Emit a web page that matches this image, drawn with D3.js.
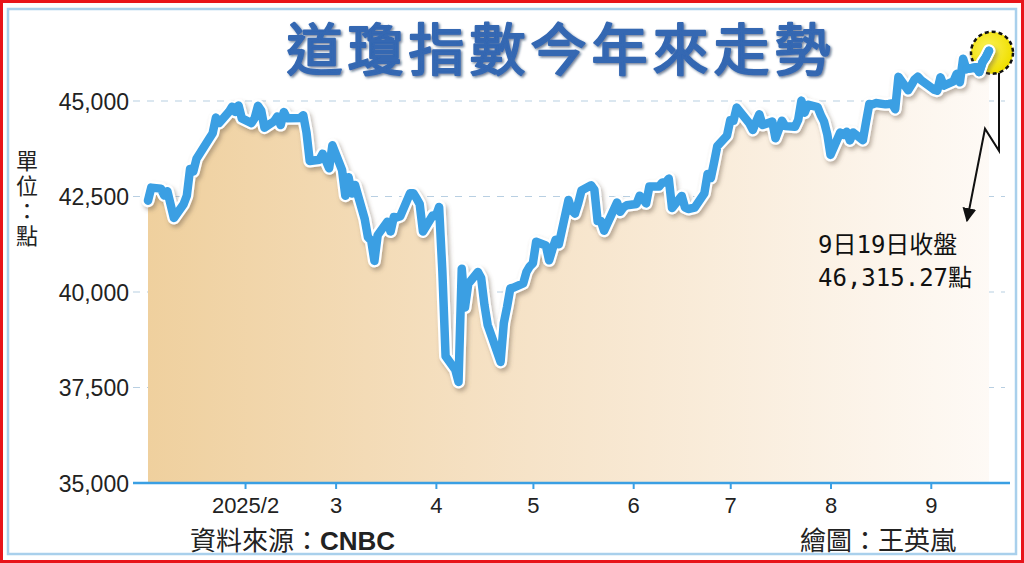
<!DOCTYPE html>
<html><head><meta charset="utf-8">
<script src="https://cdn.jsdelivr.net/npm/d3@7"></script>
<style>html,body{margin:0;padding:0;background:#fff;}svg{display:block;}</style>
</head><body>
<svg id="chart" width="1024" height="563"></svg>
<script>
const dates = ["2025-01-02","2025-01-03","2025-01-06","2025-01-07","2025-01-08","2025-01-10","2025-01-13","2025-01-14","2025-01-15","2025-01-16","2025-01-17","2025-01-21","2025-01-22","2025-01-23","2025-01-24","2025-01-27","2025-01-28","2025-01-29","2025-01-30","2025-01-31",
"2025-02-03","2025-02-04","2025-02-05","2025-02-06","2025-02-07","2025-02-10","2025-02-11","2025-02-12","2025-02-13","2025-02-14","2025-02-18","2025-02-19","2025-02-20","2025-02-21","2025-02-24","2025-02-25","2025-02-26","2025-02-27","2025-02-28",
"2025-03-03","2025-03-04","2025-03-05","2025-03-06","2025-03-07","2025-03-10","2025-03-11","2025-03-12","2025-03-13","2025-03-14","2025-03-17","2025-03-18","2025-03-19","2025-03-20","2025-03-21","2025-03-24","2025-03-25","2025-03-26","2025-03-27","2025-03-28","2025-03-31",
"2025-04-01","2025-04-02","2025-04-03","2025-04-04","2025-04-07","2025-04-08","2025-04-09","2025-04-10","2025-04-11","2025-04-14","2025-04-15","2025-04-16","2025-04-17","2025-04-21","2025-04-22","2025-04-23","2025-04-24","2025-04-25","2025-04-28","2025-04-29","2025-04-30",
"2025-05-01","2025-05-02","2025-05-05","2025-05-06","2025-05-07","2025-05-08","2025-05-09","2025-05-12","2025-05-13","2025-05-14","2025-05-15","2025-05-16","2025-05-19","2025-05-20","2025-05-21","2025-05-22","2025-05-23","2025-05-27","2025-05-28","2025-05-29","2025-05-30",
"2025-06-02","2025-06-03","2025-06-04","2025-06-05","2025-06-06","2025-06-09","2025-06-10","2025-06-11","2025-06-12","2025-06-13","2025-06-16","2025-06-17","2025-06-18","2025-06-20","2025-06-23","2025-06-24","2025-06-25","2025-06-26","2025-06-27","2025-06-30",
"2025-07-01","2025-07-02","2025-07-03","2025-07-07","2025-07-08","2025-07-09","2025-07-10","2025-07-11","2025-07-14","2025-07-15","2025-07-16","2025-07-17","2025-07-18","2025-07-21","2025-07-22","2025-07-23","2025-07-24","2025-07-25","2025-07-28","2025-07-29","2025-07-30","2025-07-31",
"2025-08-01","2025-08-04","2025-08-05","2025-08-06","2025-08-07","2025-08-08","2025-08-11","2025-08-12","2025-08-13","2025-08-14","2025-08-15","2025-08-18","2025-08-19","2025-08-20","2025-08-21","2025-08-22","2025-08-25","2025-08-26","2025-08-27","2025-08-28","2025-08-29",
"2025-09-02","2025-09-03","2025-09-04","2025-09-05","2025-09-08","2025-09-09","2025-09-10","2025-09-11","2025-09-12","2025-09-15","2025-09-16","2025-09-17","2025-09-18","2025-09-19"];
const closes = [42392,42732,42706,42528,42635,41938,42297,42518,43222,43153,43488,44025,44157,44565,44424,44714,44851,44714,44882,44545,
44422,44556,44873,44748,44303,44471,44594,44369,44711,44546,44556,44628,44177,43428,43461,43621,43434,43240,43841,
43191,42521,43006,42579,42802,41912,41433,41350,40814,41489,41842,41582,41965,41953,41985,42583,42588,42455,42300,41584,42002,
41990,42226,40546,38315,37966,37646,40609,39594,40213,40525,40369,39669,39142,38170,39187,39607,40093,40114,40228,40528,40669,
40753,41317,41219,40829,41114,41368,41249,42410,42141,42051,42323,42655,42792,42677,41860,41860,41603,42343,42098,42216,42270,
42305,42520,42428,42320,42763,42762,42867,42866,42968,42198,42516,42215,42172,42207,42582,43089,42982,43387,43819,44095,
44495,44485,44829,44406,44241,44458,44651,44372,44460,44023,44255,44484,44342,44323,44502,45010,44694,44902,44838,44633,44461,44131,
43589,44174,44112,44193,43969,44176,43975,44459,44922,44911,44946,44912,44922,44938,44786,45632,45282,45418,45565,45637,45545,
45296,45271,45621,45401,45515,45711,45490,46108,45834,45883,45758,46018,46142,46315.27];
const yTicks = [35000, 37500, 40000, 42500, 45000];
const monthTicks = ["2025-02-01","2025-03-01","2025-04-01","2025-05-01","2025-06-01","2025-07-01","2025-08-01","2025-09-01"];
const monthLabels = ["2025/2","3","4","5","6","7","8","9"];
const title = "道瓊指數今年來走勢";
const unitLabel = "單位：點";
const annotLines = ["9日19日收盤","46,315.27點"];
const sourceText = "資料來源：";
const sourceName = "CNBC";
const creditText = "繪圖：王英嵐";

const parse = d3.utcParse("%Y-%m-%d");
const data = dates.map((d,i)=>({date:parse(d), v:closes[i]}));

const svg = d3.select("#chart");
const x = d3.scaleUtc().domain([parse("2025-01-02"), parse("2025-09-19")]).range([148, 989]);
const y = d3.scaleLinear().domain([35000, 45000]).range([483, 101]);

const defs = svg.append("defs");
const grad = defs.append("linearGradient").attr("id","areaGrad").attr("gradientUnits","userSpaceOnUse")
  .attr("x1",148).attr("x2",995).attr("y1",0).attr("y2",0);
grad.append("stop").attr("offset","0%").attr("stop-color","#efd09e");
grad.append("stop").attr("offset","45%").attr("stop-color","#f6e3c8");
grad.append("stop").attr("offset","100%").attr("stop-color","#fefaf6");
const sh = defs.append("filter").attr("id","shadow").attr("x","-5%").attr("y","-10%").attr("width","110%").attr("height","130%");
sh.append("feDropShadow").attr("dx",2).attr("dy",3).attr("stdDeviation",2).attr("flood-color","#6b5a48").attr("flood-opacity",0.45);
const tsh = defs.append("filter").attr("id","tshadow").attr("x","-5%").attr("y","-20%").attr("width","110%").attr("height","140%");
tsh.append("feDropShadow").attr("dx",1.5).attr("dy",1.5).attr("stdDeviation",1).attr("flood-color","#0d2a55").attr("flood-opacity",0.6);
const rg = defs.append("radialGradient").attr("id","sunGrad").attr("cx","40%").attr("cy","40%").attr("r","60%");
rg.append("stop").attr("offset","0%").attr("stop-color","#fbf25a");
rg.append("stop").attr("offset","100%").attr("stop-color","#f0df00");
defs.append("marker").attr("id","arrow").attr("viewBox","0 0 10 10").attr("refX",9).attr("refY",5)
  .attr("markerWidth",7).attr("markerHeight",7).attr("markerUnits","strokeWidth").attr("orient","auto")
  .append("path").attr("d","M0,0 L10,5 L0,10 Z").attr("fill","#111");

// frame
svg.append("rect").attr("x",1.5).attr("y",1.5).attr("width",1021).attr("height",560)
  .attr("fill","#fff").attr("stroke","#e8141a").attr("stroke-width",3);
svg.append("rect").attr("x",8).attr("y",9).attr("width",1008).attr("height",545)
  .attr("fill","#fff").attr("stroke","#a9d0ec").attr("stroke-width",2.5);

// title
svg.append("text").attr("x",561).attr("y",70).attr("text-anchor","middle")
  .attr("font-family","'Noto Sans CJK TC','Noto Sans CJK SC',sans-serif").attr("font-weight",400)
  .attr("font-size",56).attr("letter-spacing",5).attr("fill","#3467b2")
  .attr("stroke","#3467b2").attr("stroke-width",2.2).attr("stroke-linejoin","round")
  .attr("filter","url(#tshadow)")
  .text(title);

// gridlines
svg.append("g").selectAll("line").data(yTicks.filter(t=>t>35000)).join("line")
  .attr("x1",133).attr("x2",1005).attr("y1",d=>y(d)).attr("y2",d=>y(d))
  .attr("stroke","#b8cfe2").attr("stroke-width",1.2).attr("stroke-dasharray","7,7");

// area
const area = d3.area().x(d=>x(d.date)).y0(y(35000)).y1(d=>y(d.v));
svg.append("path").datum(data).attr("d",area).attr("fill","url(#areaGrad)");

// line
const line = d3.line().x(d=>x(d.date)).y(d=>y(d.v));
const lg = svg.append("g").attr("filter","url(#shadow)");
lg.append("path").datum(data).attr("d",line).attr("fill","none").attr("stroke","#fff")
  .attr("stroke-width",13).attr("stroke-linejoin","round").attr("stroke-linecap","round");
lg.append("path").datum(data).attr("d",line).attr("fill","none").attr("stroke","#3a9fe3")
  .attr("stroke-width",8.5).attr("stroke-linejoin","round").attr("stroke-linecap","round");

// y axis labels
const yAxis = d3.axisLeft(y).tickValues(yTicks).tickFormat(d3.format(",")).tickSize(0).tickPadding(0);
const ya = svg.append("g").attr("transform","translate(129,0)").call(yAxis);
ya.select(".domain").remove();
ya.selectAll("text").attr("font-family","'Liberation Sans',Arial,sans-serif").attr("font-size",23).attr("fill","#222").attr("dy","0.35em");

// x axis
const xa = svg.append("g").attr("transform",`translate(0,${y(35000)})`)
  .call(d3.axisBottom(x).tickValues(monthTicks.map(parse)).tickFormat((d,i)=>monthLabels[i]).tickSize(6).tickPadding(8));
xa.select(".domain").attr("d",`M133,0H1010`).attr("stroke","#3a9fe3").attr("stroke-width",2.5);
xa.selectAll(".tick line").attr("stroke","#3a9fe3").attr("stroke-width",2);
xa.selectAll("text").attr("font-family","'Liberation Sans',Arial,sans-serif").attr("font-size",22).attr("fill","#222");

// unit label (vertical)
svg.append("text").attr("x",27).attr("y",150)
  .attr("writing-mode","tb").style("writing-mode","vertical-rl").attr("letter-spacing",3)
  .attr("font-family","'Noto Sans CJK TC',sans-serif").attr("font-size",22).attr("fill","#222")
  .text(unitLabel);

// end marker + annotation
const last = data[data.length-1];
const cx = x(last.date), cy = y(last.v);
svg.append("circle").attr("cx",cx+3).attr("cy",cy+2).attr("r",21).attr("fill","url(#sunGrad)")
  .attr("stroke","#111").attr("stroke-width",2.5).attr("stroke-dasharray","4,3");
lg.raise();
svg.append("path").datum(data.slice(-6)).attr("d",line).attr("fill","none").attr("stroke","#3a9fe3")
  .attr("stroke-width",8.5).attr("stroke-linejoin","round").attr("stroke-linecap","round");
svg.append("polyline")
  .attr("points",[[cx+10,cy+22],[cx+10,cy+100],[cx-4,cy+78],[cx-22,cy+170]].map(p=>p.join(",")).join(" "))
  .attr("fill","none").attr("stroke","#111").attr("stroke-width",2).attr("marker-end","url(#arrow)");
svg.append("g").selectAll("text").data(annotLines).join("text")
  .attr("x",cx-171).attr("y",(d,i)=>cy+202+i*33)
  .attr("font-family","'DejaVu Sans Mono','Noto Sans CJK TC',monospace").attr("font-size",24).attr("fill","#111")
  .text(d=>d);

// footer
const src = svg.append("text").attr("x",190).attr("y",550)
  .attr("font-family","'Noto Sans CJK TC',sans-serif").attr("font-size",26).attr("fill","#222");
src.append("tspan").text(sourceText);
src.append("tspan").attr("font-family","'Liberation Sans',Arial,sans-serif").attr("font-weight",700).text(sourceName);
svg.append("text").attr("x",800).attr("y",550)
  .attr("font-family","'Noto Sans CJK TC',sans-serif").attr("font-size",26).attr("fill","#222")
  .text(creditText);
</script>
</body></html>
